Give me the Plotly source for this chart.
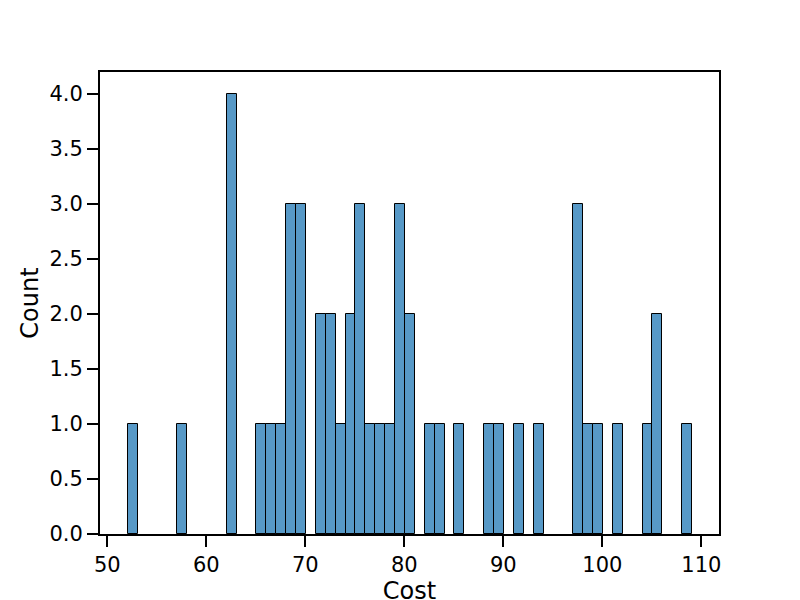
import plotly.graph_objects as go

# histogram bins: left edges (width 1) and counts
bin_left = [52.06, 57.06, 62.06, 65.06, 66.06, 67.06, 68.06, 69.06,
            71.06, 72.06, 73.06, 74.06, 75.06, 76.06, 77.06, 78.06, 79.06, 80.06,
            82.06, 83.06, 85.06, 88.06, 89.06, 91.06, 93.06,
            97.06, 98.06, 99.06, 101.06, 104.06, 105.06, 108.06]
counts = [1, 1, 4, 1, 1, 1, 3, 3,
          2, 2, 1, 2, 3, 1, 1, 1, 3, 2,
          1, 1, 1, 1, 1, 1, 1,
          3, 1, 1, 1, 1, 2, 1]
bin_width = 1.0

fig = go.Figure(go.Bar(
    x=bin_left,
    y=counts,
    width=bin_width,
    offset=0,
    marker=dict(color="rgba(31,119,180,0.75)", line=dict(color="black", width=1)),
))

tick_font = dict(family="DejaVu Sans", size=21, color="black")
title_font = dict(family="DejaVu Sans", size=24, color="black")
axis_common = dict(
    showline=True, linecolor="black", linewidth=2, mirror=True,
    ticks="outside", ticklen=11, tickwidth=2, tickcolor="black",
    showgrid=False, zeroline=False, tickfont=tick_font, automargin=False,
)

# page has ~8px body margin, so shift the plot area up/left to compensate
fig.update_layout(
    width=792, height=600,
    margin=dict(l=92, r=81, t=64, b=74),
    plot_bgcolor="white", paper_bgcolor="white",
    showlegend=False, bargap=0,
    xaxis=dict(range=[49.26, 111.78], tickvals=[50, 60, 70, 80, 90, 100, 110],
               title=dict(text="Cost", font=title_font, standoff=4),
               **axis_common),
    yaxis=dict(range=[0, 4.2], dtick=0.5, tickformat=".1f",
               title=dict(text="Count", font=title_font, standoff=4),
               **axis_common),
)

fig.write_html("out.html")
